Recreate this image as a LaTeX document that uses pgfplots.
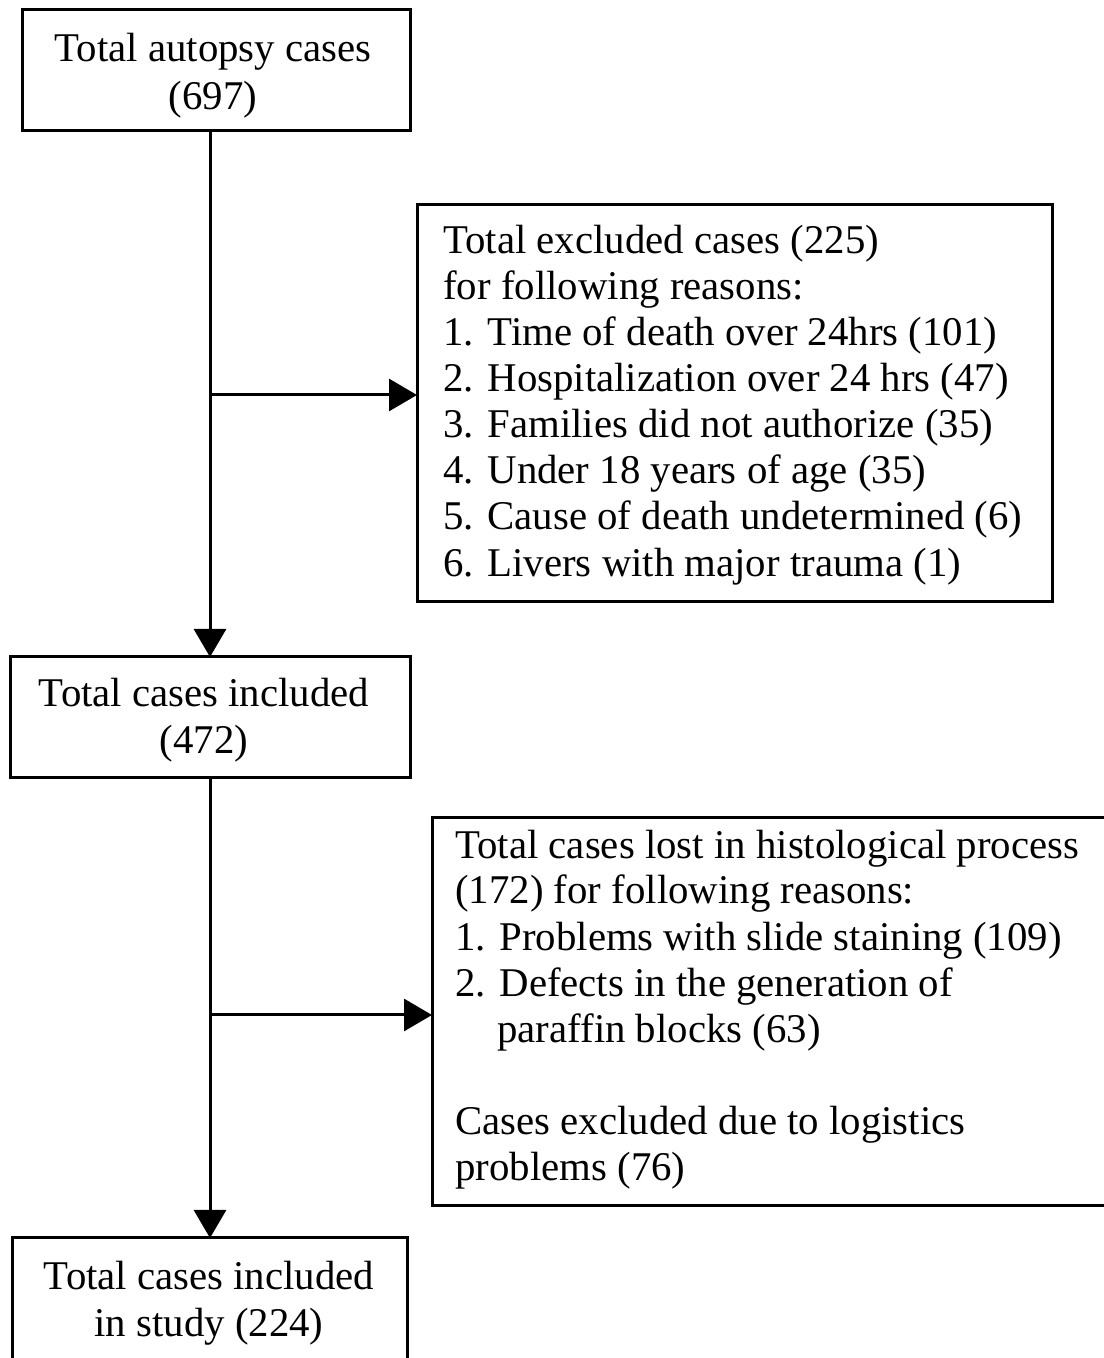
\documentclass[border=0pt]{standalone}
\usepackage{pgfplots}
\pgfplotsset{compat=1.18}
\usepackage{fontspec}
\setmainfont{Liberation Serif}
\usetikzlibrary{arrows.meta}
\begin{document}
\begin{tikzpicture}
\begin{axis}[width=552bp, height=679bp, scale only axis,
  xmin=0, xmax=1104, ymin=-1358, ymax=0, axis lines=none, clip=true,
  every axis plot/.append style={line width=1.5bp, black}]
\fill[white] (rel axis cs:0,0) rectangle (rel axis cs:1,1);
% boxes
\draw[line width=1.5bp] (axis cs:22,-10) rectangle (axis cs:410,-131);
\draw[line width=1.5bp] (axis cs:417,-205) rectangle (axis cs:1052,-602);
\draw[line width=1.5bp] (axis cs:10,-657) rectangle (axis cs:410,-778);
\draw[line width=1.5bp] (axis cs:432,-818) rectangle (axis cs:1115,-1206);
\draw[line width=1.5bp] (axis cs:12,-1238) rectangle (axis cs:407,-1370);
% connectors
\addplot[-{Triangle[length=14bp,width=16bp]}] coordinates {(210,-131) (210,-657)};
\addplot[-{Triangle[length=14bp,width=16bp]}] coordinates {(210,-395) (417,-395)};
\addplot[-{Triangle[length=14bp,width=16bp]}] coordinates {(210,-778) (210,-1238)};
\addplot[-{Triangle[length=14bp,width=16bp]}] coordinates {(210,-1015) (432,-1015)};
% text
\tikzset{t/.style={inner sep=0pt, font=\fontsize{20.4bp}{23bp}\selectfont}}
\node[t, anchor=base] at (axis cs:213,-62) {Total autopsy cases};
\node[t, anchor=base] at (axis cs:213,-110) {(697)};
\node[t, anchor=base] at (axis cs:204,-707) {Total cases included};
\node[t, anchor=base] at (axis cs:204,-754) {(472)};
\node[t, anchor=base] at (axis cs:209,-1289) {Total cases included};
\node[t, anchor=base] at (axis cs:209,-1336) {in study (224)};
\node[t, anchor=base west] at (axis cs:443,-254) {Total excluded cases (225)};
\node[t, anchor=base west] at (axis cs:443,-300) {for following reasons:};
\node[t, anchor=base west] at (axis cs:443,-346) {1. Time of death over 24hrs (101)};
\node[t, anchor=base west] at (axis cs:443,-392) {2. Hospitalization over 24 hrs (47)};
\node[t, anchor=base west] at (axis cs:443,-438) {3. Families did not authorize (35)};
\node[t, anchor=base west] at (axis cs:443,-484) {4. Under 18 years of age (35)};
\node[t, anchor=base west] at (axis cs:443,-530) {5. Cause of death undetermined (6)};
\node[t, anchor=base west] at (axis cs:443,-577) {6. Livers with major trauma (1)};
\node[t, anchor=base west] at (axis cs:455,-859) {Total cases lost in histological process};
\node[t, anchor=base west] at (axis cs:455,-904) {(172) for following reasons:};
\node[t, anchor=base west] at (axis cs:455,-951) {1. Problems with slide staining (109)};
\node[t, anchor=base west] at (axis cs:455,-997) {2. Defects in the generation of};
\node[t, anchor=base west] at (axis cs:497,-1043) {paraffin blocks (63)};
\node[t, anchor=base west] at (axis cs:455,-1135) {Cases excluded due to logistics};
\node[t, anchor=base west] at (axis cs:455,-1181) {problems (76)};
\end{axis}
\end{tikzpicture}
\end{document}
